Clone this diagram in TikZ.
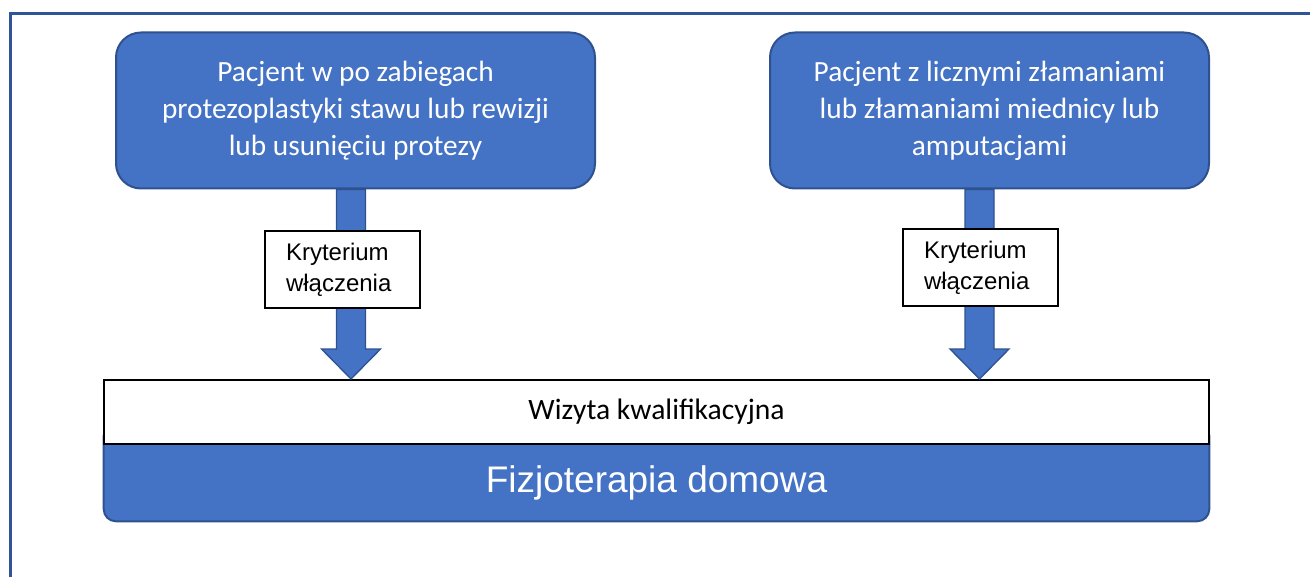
\documentclass[tikz,border=0pt]{standalone}
\usepackage{fontspec}
\setmainfont{Carlito}
\newfontfamily\arialfont{Liberation Sans}
\usepackage{xcolor}
\usetikzlibrary{positioning, calc, backgrounds}

\definecolor{boxblue}{HTML}{4472C4}
\definecolor{boxedge}{HTML}{2F528F}
\definecolor{frameblue}{HTML}{2F5597}

\tikzset{
  patientbox/.style={rectangle, rounded corners=18.75pt, fill=boxblue, draw=boxedge,
    line width=1.5pt, text=white, align=center, minimum height=117pt,
    font=\fontsize{22}{27.75}\selectfont},
  critbox/.style={rectangle, fill=white, draw=black, line width=1.1pt,
    minimum height=57.75pt, text width=84.75pt, inner xsep=15.75pt, align=left,
    font=\arialfont\fontsize{18}{22.5}\selectfont},
  blockarrow/.style={fill=boxblue, draw=boxedge, line width=1pt, line join=miter},
}

\begin{document}
\begin{tikzpicture}[x=0.75pt, y=-0.75pt]
  \useasboundingbox (0,0) rectangle (1310,577);
  \draw[frameblue, line width=2.25pt] (10,577) -- (10,14) -- (1310,14);

  % patient groups
  \node[patientbox, minimum width=359.25pt] (pl) at (355.5,110.5)
       {Pacjent w po zabiegach\\protezoplastyki stawu lub rewizji\\lub usunięciu protezy};
  \node[patientbox, minimum width=329.25pt] (pr) at (989.5,110.5)
       {Pacjent z licznymi złamaniami\\lub złamaniami miednicy lub\\amputacjami};

  % qualification + home physiotherapy
  \node[rectangle, fill=white, draw=black, line width=1.5pt, minimum width=828.75pt,
        minimum height=48pt, font=\fontsize{22.2}{26}\selectfont] (wiz) at (656.5,412)
       {Wizyta kwalifikacyjna};
  \node[minimum width=828.75pt, minimum height=57.75pt, text=white,
        font=\arialfont\fontsize{27.75}{32}\selectfont] (fz) at (656.5,482.5)
       {Fizjoterapia domowa};
  \begin{scope}[on background layer]
    \draw[fill=boxblue, draw=boxedge, line width=1.5pt, rounded corners=9pt]
          ($(fz.north west)+(0,-20)$) rectangle (fz.south east);
  \end{scope}

  % block arrows
  \coordinate (la) at ($(pl.south)+(-4.5,0)$);
  \coordinate (ra) at ($(pr.south)+(-10,0)$);
  \foreach \a in {la,ra}
    \draw[blockarrow] ($(\a)+(-14.5,0)$) -- ($(\a |- wiz.north)+(-14.5,-30)$)
          -- ($(\a |- wiz.north)+(-29.5,-30)$) -- (\a |- wiz.north)
          -- ($(\a |- wiz.north)+(29.5,-30)$) -- ($(\a |- wiz.north)+(14.5,-30)$)
          -- ($(\a)+(14.5,0)$) -- cycle;

  \node[critbox, font=\arialfont\fontsize{18}{23}\selectfont] (kl) at (342.5,269.5)
       {\vphantom{Ky}Kryterium\\włączenia};
  \node[critbox, font=\arialfont\fontsize{18}{23}\selectfont] (kr) at (980.5,267.5)
       {\vphantom{Ky}Kryterium\\włączenia};

\end{tikzpicture}
\end{document}
